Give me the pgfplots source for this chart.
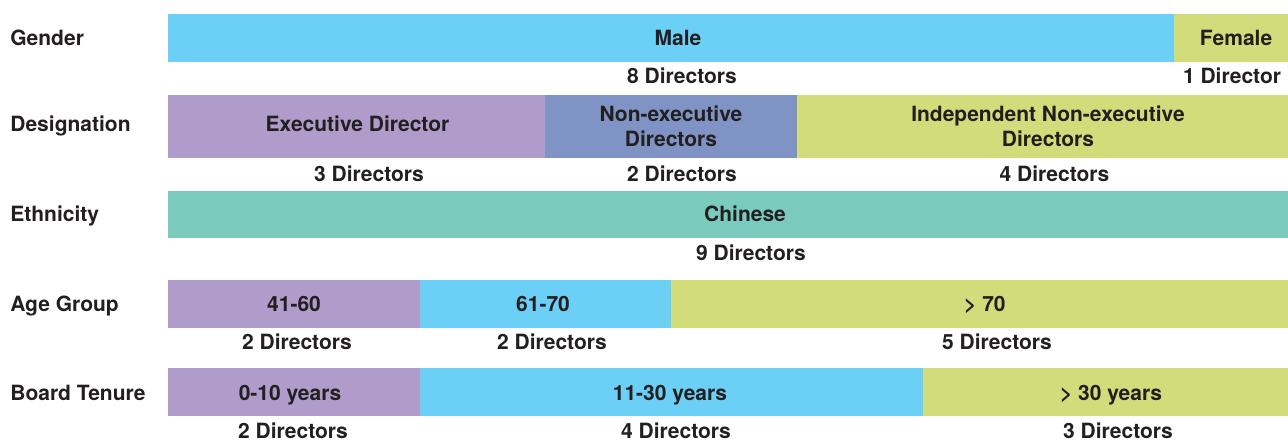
\documentclass[border=0pt]{standalone}
\usepackage{pgfplots}
\pgfplotsset{compat=1.18}
\usepackage{fontspec}
\setmainfont{TeX Gyre Heros}
\definecolor{cBlue}{HTML}{6BCFF6}
\definecolor{cGreen}{HTML}{D3DC7B}
\definecolor{cPurple}{HTML}{B09CCB}
\definecolor{cSlate}{HTML}{7F94C4}
\definecolor{cTeal}{HTML}{7ACBBE}
\definecolor{cText}{HTML}{231F20}
\begin{document}
\begin{tikzpicture}[
  lbl/.style={font=\fontsize{10.5}{12.25}\selectfont\bfseries, text=cText, inner sep=0pt, anchor=base, align=center},
  side/.style={font=\fontsize{10.5}{12.25}\selectfont\bfseries, text=cText, inner sep=0pt, anchor=base west}]
\begin{axis}[name=ax, hide axis, scale only axis, width=644pt, height=220.5pt,
  xmin=-1.3355, xmax=8.903, ymin=0, ymax=441, y dir=reverse, clip=true, no marks]
% Gender: Male 8, Female 1
\addplot[fill=cBlue, draw=none] coordinates {(0,14) (8,14) (8,62) (0,62)} -- cycle;
\addplot[fill=cGreen, draw=none] coordinates {(8,14) (9,14) (9,62) (8,62)} -- cycle;
% Designation: Executive 3, Non-executive 2, Independent 4
\addplot[fill=cPurple, draw=none] coordinates {(0,95) (3,95) (3,158) (0,158)} -- cycle;
\addplot[fill=cSlate, draw=none] coordinates {(3,95) (5,95) (5,158) (3,158)} -- cycle;
\addplot[fill=cGreen, draw=none] coordinates {(5,95) (9,95) (9,158) (5,158)} -- cycle;
% Ethnicity: Chinese 9
\addplot[fill=cTeal, draw=none] coordinates {(0,191) (9,191) (9,238) (0,238)} -- cycle;
% Age group: 41-60 2, 61-70 2, >70 5
\addplot[fill=cPurple, draw=none] coordinates {(0,280) (2,280) (2,328) (0,328)} -- cycle;
\addplot[fill=cBlue, draw=none] coordinates {(2,280) (4,280) (4,328) (2,328)} -- cycle;
\addplot[fill=cGreen, draw=none] coordinates {(4,280) (9,280) (9,328) (4,328)} -- cycle;
% Board tenure: 0-10 2, 11-30 4, >30 3
\addplot[fill=cPurple, draw=none] coordinates {(0,368) (2,368) (2,416) (0,416)} -- cycle;
\addplot[fill=cBlue, draw=none] coordinates {(2,368) (6,368) (6,416) (2,416)} -- cycle;
\addplot[fill=cGreen, draw=none] coordinates {(6,368) (9,368) (9,416) (6,416)} -- cycle;

% row titles
\node[side] at (axis cs:-1.256,45.5) {Gender};
\node[side] at (axis cs:-1.256,132) {Designation};
\node[side] at (axis cs:-1.256,221) {Ethnicity};
\node[side] at (axis cs:-1.256,311.5) {Age Group};
\node[side] at (axis cs:-1.256,400) {Board Tenure};

% Gender
\node[lbl] at (axis cs:4.054,45.5) {Male};
\node[lbl] at (axis cs:8.490,45.5) {Female};
\node[lbl] at (axis cs:4.086,83.5) {8 Directors};
\node[lbl] at (axis cs:8.458,83.5) {1 Director};
% Designation
\node[lbl] at (axis cs:1.506,132) {Executive Director};
\node[lbl] at (axis cs:3.998,146) {Non-executive\\Directors};
\node[lbl] at (axis cs:6.995,146) {Independent Non-executive\\Directors};
\node[lbl] at (axis cs:1.598,181) {3 Directors};
\node[lbl] at (axis cs:4.086,181) {2 Directors};
\node[lbl] at (axis cs:7.047,181) {4 Directors};
% Ethnicity
\node[lbl] at (axis cs:4.587,221.5) {Chinese};
\node[lbl] at (axis cs:4.634,260) {9 Directors};
% Age group
\node[lbl] at (axis cs:1.002,311.5) {41-60};
\node[lbl] at (axis cs:2.981,311.5) {61-70};
\node[lbl] at (axis cs:6.494,311.5) {> 70};
\node[lbl] at (axis cs:1.025,349) {2 Directors};
\node[lbl] at (axis cs:3.052,349) {2 Directors};
\node[lbl] at (axis cs:6.590,349) {5 Directors};
% Board tenure
\node[lbl] at (axis cs:0.970,400) {0-10 years};
\node[lbl] at (axis cs:3.990,400) {11-30 years};
\node[lbl] at (axis cs:7.496,400) {> 30 years};
\node[lbl] at (axis cs:0.994,438.5) {2 Directors};
\node[lbl] at (axis cs:4.038,438.5) {4 Directors};
\node[lbl] at (axis cs:7.552,438.5) {3 Directors};
\end{axis}
\pgfresetboundingbox
\useasboundingbox (ax.south west) rectangle (ax.north east);
\end{tikzpicture}
\end{document}
